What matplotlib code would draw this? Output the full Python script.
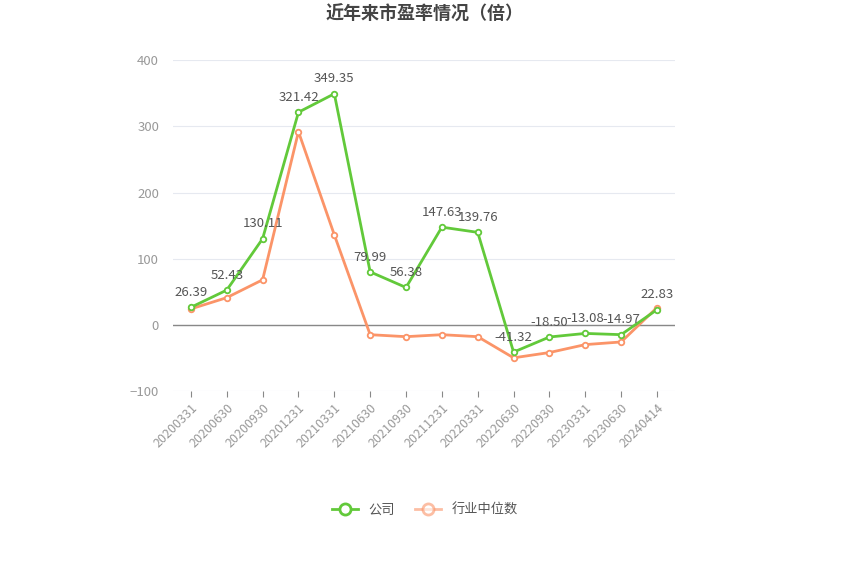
import matplotlib
matplotlib.use("Agg")
import matplotlib.pyplot as plt
from matplotlib.lines import Line2D

plt.rcParams["font.family"] = ["Noto Sans CJK SC", "DejaVu Sans"]

dates = ["20200331","20200630","20200930","20201231","20210331","20210630","20210930",
         "20211231","20220331","20220630","20220930","20230331","20230630","20240414"]
company = [26.39,52.43,130.11,321.42,349.35,79.99,56.38,147.63,139.76,-41.32,-18.50,-13.08,-14.97,22.83]
industry = [24,41,68,292,136,-15,-18,-15,-18,-50,-42,-30,-26,26]
yticks = [-100,0,100,200,300,400]

green = "#62c93a"
orange = "#fb9468"

fig = plt.figure(figsize=(8.5,5.74), dpi=100)
ax = fig.add_axes([0.2035,0.319,0.5905,0.576])
x = list(range(len(dates)))
ax.plot(x, industry, color=orange, lw=2, marker="o", ms=4, mfc="white", mec=orange, mew=1.3, zorder=3)
ax.plot(x, company, color=green, lw=2, marker="o", ms=4, mfc="white", mec=green, mew=1.3, zorder=4)
for xi, v in zip(x, company):
    ax.annotate(f"{v:.2f}", (xi, v), xytext=(0,6), textcoords="offset points",
                ha="center", va="bottom", fontsize=9.5, color="#555555", zorder=5)
ax.set_xlim(-0.5, len(dates)-0.5)
ax.set_ylim(-100, 400)
ax.set_yticks(yticks)
ax.set_xticks(x)
ax.set_xticklabels(dates, rotation=45, ha="right", rotation_mode="anchor", fontsize=9, color="#999999")
ax.tick_params(axis="y", length=0, labelsize=9.5, labelcolor="#999999", pad=10)
ax.tick_params(axis="x", length=4, color="#888888")
ax.grid(axis="y", color="#e6e9f0", lw=0.8)
for s in ["top","right","left","bottom"]:
    ax.spines[s].set_visible(False)
ax.axhline(0, color="#888888", lw=1, zorder=2)
ax.set_axisbelow(True)

fig.text(0.5, 0.975, "近年来市盈率情况（倍）", ha="center", va="center", fontsize=13, fontweight="bold", color="#444444")

h1 = Line2D([], [], color=green, lw=2, marker="o", ms=8, mfc="white", mec=green, mew=2)
h2 = Line2D([], [], color=orange, lw=2, marker="o", ms=8, mfc="white", mec=orange, mew=2, alpha=0.6)
fig.legend([h1,h2], ["公司","行业中位数"], loc="center", bbox_to_anchor=(0.5,0.112), ncol=2,
           frameon=False, fontsize=9.5, handlelength=2, columnspacing=1.5, labelcolor="#555555")
fig.savefig("out.png", dpi=100)
